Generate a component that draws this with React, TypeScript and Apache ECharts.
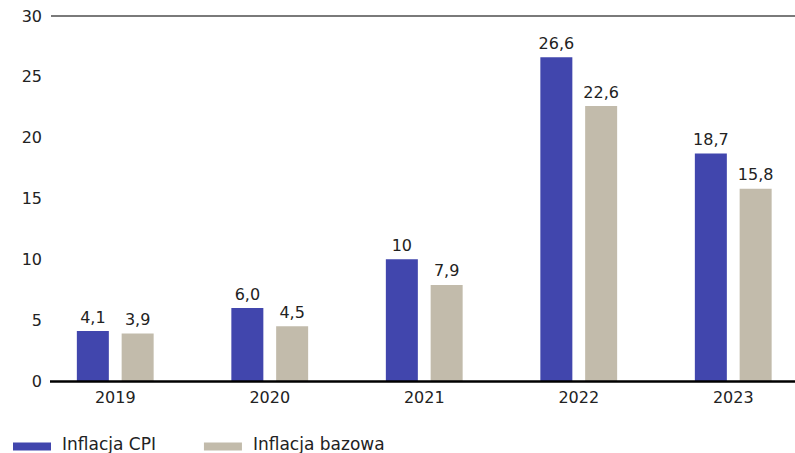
import React, { useEffect, useRef } from "react";
import * as echarts from "echarts";

const categories = ["2019", "2020", "2021", "2022", "2023"];
const seriesNames = ["Inflacja CPI", "Inflacja bazowa"];
const cpiValues = [4.1, 6.0, 10, 26.6, 18.7];
const coreValues = [3.9, 4.5, 7.9, 22.6, 15.8];
const cpiLabels = ["4,1", "6,0", "10", "26,6", "18,7"];
const coreLabels = ["3,9", "4,5", "7,9", "22,6", "15,8"];
const yTicks = [0, 5, 10, 15, 20, 25, 30];

const FONT = "'DejaVu Sans', sans-serif";
const TEXT = "#222222";

export default function App() {
  const ref = useRef<HTMLDivElement>(null);
  useEffect(() => {
    if (!ref.current) return;
    const chart = echarts.init(ref.current, undefined, { renderer: "svg" });
    const top = 16;
    const bottomPx = 381;
    chart.setOption({
      animation: false,
      textStyle: { fontFamily: FONT },
      grid: {
        left: 38,
        width: 772.5,
        top: top,
        height: bottomPx - top,
        containLabel: false,
        outerBoundsMode: "none",
      },
      legend: {
        left: 8,
        top: 430,
        itemWidth: 38,
        itemHeight: 14,
        itemGap: 48,
        icon: "path://M0,0 L0.01,0 Z M0,6 L38,6 L38,14 L0,14 Z",
        textStyle: { fontFamily: FONT, fontSize: 17, color: TEXT, padding: [0, 0, 0, 6] },
        data: seriesNames,
      },
      xAxis: {
        type: "category",
        data: categories,
        axisLine: { show: false },
        axisTick: { show: false },
        axisLabel: { color: TEXT, fontSize: 16, fontFamily: FONT, margin: 8 },
      },
      yAxis: {
        type: "value",
        min: yTicks[0],
        max: yTicks[yTicks.length - 1],
        interval: 5,
        splitLine: { show: false },
        axisLine: { show: false },
        axisTick: { show: false },
        axisLabel: { color: TEXT, fontSize: 16, fontFamily: FONT, margin: -4 },
      },
      graphic: [
        {
          type: "line",
          shape: { x1: 51, y1: top, x2: 795, y2: top },
          style: { stroke: "#7a7a7a", lineWidth: 2 },
          silent: true,
        },
        {
          type: "line",
          shape: { x1: 50, y1: bottomPx + 0.5, x2: 795, y2: bottomPx + 0.5 },
          style: { stroke: "#000000", lineWidth: 2.5 },
          silent: true,
          z: 100,
        },
      ],
      series: [
        {
          name: seriesNames[0],
          type: "bar",
          data: cpiValues,
          barWidth: 32,
          barGap: "40%",
          itemStyle: { color: "#4146ad" },
          label: {
            show: true,
            position: "top",
            distance: 6,
            color: TEXT,
            fontSize: 16,
            fontFamily: FONT,
            formatter: (p: any) => cpiLabels[p.dataIndex],
          },
        },
        {
          name: seriesNames[1],
          type: "bar",
          data: coreValues,
          barWidth: 32,
          barGap: "40%",
          itemStyle: { color: "#c2bbab" },
          label: {
            show: true,
            position: "top",
            distance: 6,
            color: TEXT,
            fontSize: 16,
            fontFamily: FONT,
            formatter: (p: any) => coreLabels[p.dataIndex],
          },
        },
      ],
    });
    return () => chart.dispose();
  }, []);
  return <div ref={ref} style={{ width: 795, height: 453, position: "absolute", left: 0, top: 0 }} />;
}
